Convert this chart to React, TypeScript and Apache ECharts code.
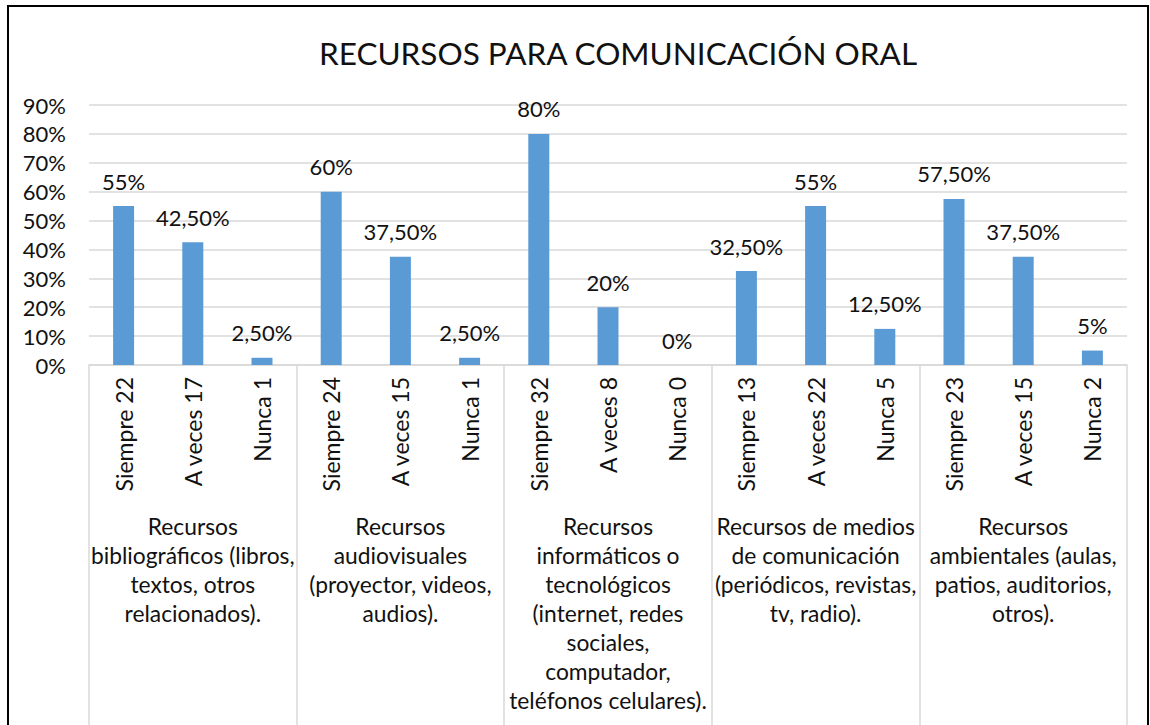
import React, { useEffect, useRef } from "react";
import * as echarts from "echarts";

const TITLE = "RECURSOS PARA COMUNICACIÓN ORAL";
const categories = [
  "Siempre 22", "A veces 17", "Nunca 1",
  "Siempre 24", "A veces 15", "Nunca 1",
  "Siempre 32", "A veces 8", "Nunca 0",
  "Siempre 13", "A veces 22", "Nunca 5",
  "Siempre 23", "A veces 15", "Nunca 2",
];
const groups = [
  "Recursos\nbibliográficos (libros,\ntextos, otros\nrelacionados).",
  "Recursos\naudiovisuales\n(proyector, videos,\naudios).",
  "Recursos\ninformáticos o\ntecnológicos\n(internet, redes\nsociales,\ncomputador,\nteléfonos celulares).",
  "Recursos de medios\nde comunicación\n(periódicos, revistas,\ntv, radio).",
  "Recursos\nambientales (aulas,\npatios, auditorios,\notros).",
];
const values = [55, 42.5, 2.5, 60, 37.5, 2.5, 80, 20, 0, 32.5, 55, 12.5, 57.5, 37.5, 5];
const yTicks = { min: 0, max: 90, interval: 10 };

const FONT = "Lato";
const TXT = "#111";

const fmt = (v: number) =>
  Number.isInteger(v) ? `${v}%` : `${v.toFixed(2).replace(".", ",")}%`;

export default function App() {
  const ref = useRef<HTMLDivElement>(null);
  useEffect(() => {
    if (!ref.current) return;
    const chart = echarts.init(ref.current, null, { renderer: "svg" });
    chart.setOption({
      animation: false,
      backgroundColor: "#fff",
      textStyle: { fontFamily: FONT, color: TXT },
      title: {
        text: TITLE,
        left: 613,
        top: 32,
        textAlign: "center",
        textStyle: { fontFamily: FONT, fontSize: 31.5, fontWeight: "normal", color: TXT },
      },
      grid: { left: 89, right: 23, top: 105, bottom: 360, containLabel: false },
      xAxis: [
        {
          type: "category",
          position: "bottom",
          data: categories,
          axisLine: { show: true, lineStyle: { color: "#D9D9D9", width: 1.5 } },
          axisTick: { show: false },
          axisLabel: {
            interval: 0,
            rotate: 90,
            margin: 12,
            fontFamily: FONT,
            fontSize: 23,
            color: TXT,
          },
        },
        {
          type: "category",
          position: "bottom",
          offset: 0,
          data: groups,
          axisLine: { show: false },
          axisTick: { show: true, interval: 0, length: 400, lineStyle: { color: "#D9D9D9", width: 1.5 } },
          axisLabel: {
            interval: 0,
            margin: 146,
            fontFamily: FONT,
            fontSize: 22.8,
            lineHeight: 29,
            align: "center",
            color: TXT,
          },
          splitLine: { show: false },
        },
      ],
      yAxis: {
        type: "value",
        min: yTicks.min,
        max: yTicks.max,
        interval: yTicks.interval,
        axisLine: { show: false },
        axisTick: { show: false },
        splitLine: { show: true, lineStyle: { color: "#D9D9D9", width: 1.5 } },
        axisLabel: {
          margin: 23,
          fontFamily: FONT,
          fontSize: 22,
          color: TXT,
          formatter: (v: number) => `${v}%`,
        },
      },
      series: [
        {
          type: "bar",
          xAxisIndex: 0,
          data: values,
          barWidth: 21,
          itemStyle: { color: "#5B9BD5" },
          label: {
            show: true,
            position: "top",
            distance: 14,
            fontFamily: FONT,
            fontSize: 22,
            color: TXT,
            formatter: (p: any) => fmt(p.value),
          },
        },
      ],
      graphic: [
        {
          type: "rect",
          silent: true,
          shape: { x: 8, y: 6, width: 1140, height: 800 },
          style: { fill: "none", stroke: "#000", lineWidth: 2 },
          z: 100,
        },
      ],
    });
    return () => chart.dispose();
  }, []);
  return (
    <div
      ref={ref}
      style={{ position: "fixed", left: 0, top: 0, width: 1150, height: 725 }}
    />
  );
}
